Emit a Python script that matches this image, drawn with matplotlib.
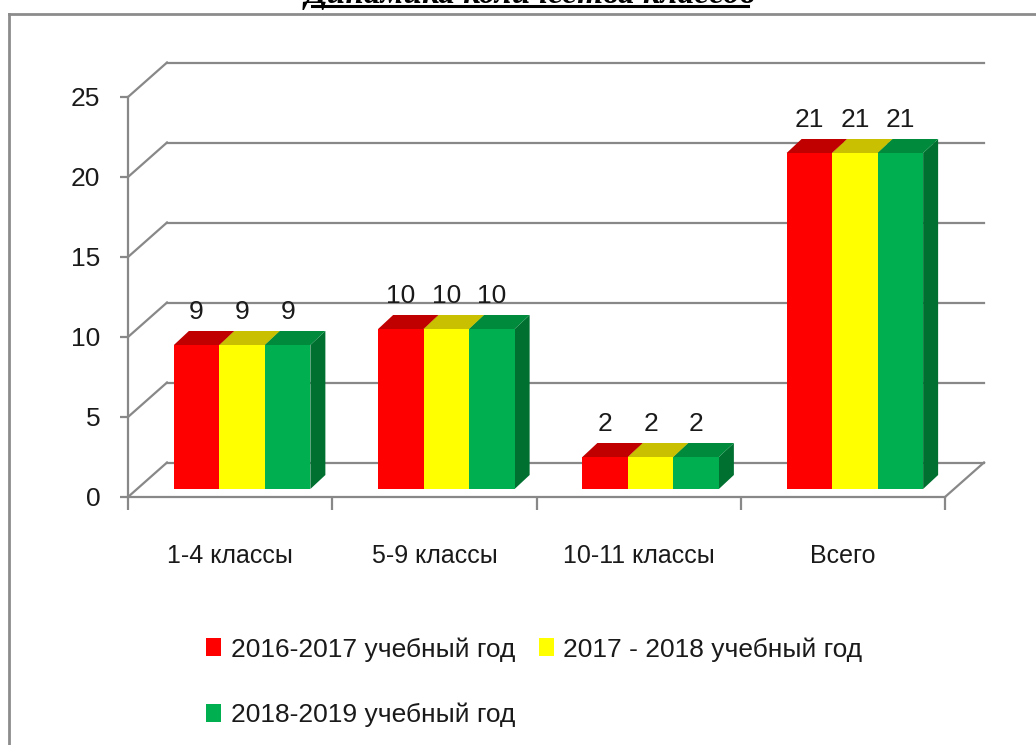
import numpy as np
import matplotlib
matplotlib.use('Agg')
from matplotlib import pyplot as plt
from matplotlib.patches import Patch
from matplotlib.lines import Line2D

plt.rcParams['font.family'] = ['Liberation Sans Narrow', 'Liberation Sans', 'DejaVu Sans']

# data
categories = ['1-4 классы', '5-9 классы', '10-11 классы', 'Всего']
series_names = ['2016-2017 учебный год', '2017 - 2018 учебный год', '2018-2019 учебный год']
vals_2016 = [9, 10, 2, 21]
vals_2017 = [9, 10, 2, 21]
vals_2018 = [9, 10, 2, 21]
yticks = [0, 5, 10, 15, 20, 25]

values = [vals_2016, vals_2017, vals_2018]
front_colors = ['#ff0000', '#ffff00', '#00b050']
top_colors = ['#c00000', '#c8c000', '#008a3c']
side_colors = ['#a00000', '#a8a000', '#007030']
grid_c = '#888888'

W, H = 1036, 745
fig = plt.figure(figsize=(W / 100, H / 100), dpi=100)
# front plane of the 3d box, in pixels: x 128..945, y 497..97
ax = fig.add_axes([128 / W, (H - 497) / H, 817 / W, 400 / H])
ax.set_xlim(-0.5, 3.5)
ax.set_ylim(0, 25)
ax.patch.set_visible(False)

pxx = 817 / 4.0   # pixels per x unit
pxy = 400 / 25.0  # pixels per y unit
wall_dx, wall_dy = 39 / pxx, 34.5 / pxy   # depth of the box
bar_ox, bar_oy = 12 / pxx, 8 / pxy        # bar front offset into the box
bar_dx, bar_dy = 15 / pxx, 14 / pxy       # bar depth
bw = 45.5 / pxx

# back wall gridlines and left wall diagonals
for v in yticks:
    ax.plot([-0.5 + wall_dx, 3.5 + wall_dx], [v + wall_dy, v + wall_dy],
            color=grid_c, lw=1.6, clip_on=False, zorder=1)
    ax.plot([-0.5, -0.5 + wall_dx], [v, v + wall_dy],
            color=grid_c, lw=1.6, clip_on=False, zorder=1)
# floor right edge
ax.plot([3.5, 3.5 + wall_dx], [0, wall_dy], color=grid_c, lw=1.6, clip_on=False, zorder=1)

x = np.arange(len(categories))
for i, vals in enumerate(values):
    xl = x - 1.5 * bw + i * bw + bar_ox
    xr = xl + bw
    for j in range(len(categories)):
        b = bar_oy
        t = bar_oy + vals[j]
        ax.fill([xr[j], xr[j] + bar_dx, xr[j] + bar_dx, xr[j]],
                [b, b + bar_dy, t + bar_dy, t],
                color=side_colors[i], lw=0, clip_on=False, zorder=3 + i)
        ax.fill([xl[j], xl[j] + bar_dx, xr[j] + bar_dx, xr[j]],
                [t, t + bar_dy, t + bar_dy, t],
                color=top_colors[i], lw=0, clip_on=False, zorder=3 + i)
    ax.bar(xl, vals, width=bw, bottom=bar_oy, align='edge', color=front_colors[i],
           lw=0, clip_on=False, zorder=3 + i)
    for j in range(len(categories)):
        ax.annotate(str(vals[j]), (xl[j] + bw / 2, bar_oy + vals[j]),
                    xytext=(0, 19), textcoords='offset points',
                    ha='center', va='baseline', fontsize=19, color='#1a1a1a',
                    annotation_clip=False, zorder=10)

# axes lines and ticks
for s in ['top', 'right']:
    ax.spines[s].set_visible(False)
for s in ['left', 'bottom']:
    ax.spines[s].set_color(grid_c)
    ax.spines[s].set_linewidth(1.6)
    ax.spines[s].set_zorder(2)
ax.set_yticks(yticks)
ax.set_yticklabels([str(v) for v in yticks])
ax.tick_params(axis='y', direction='out', length=6, width=1.6, color=grid_c,
               pad=14, labelsize=19, labelcolor='#1a1a1a')
ax.set_xticks(np.arange(-0.5, 4, 1.0))
ax.set_xticklabels([])
ax.tick_params(axis='x', which='major', direction='out', length=9, width=1.6, color=grid_c)
ax.set_xticks(x, minor=True)
ax.set_xticklabels(categories, minor=True)
ax.tick_params(axis='x', which='minor', length=0, pad=34, labelsize=18, labelcolor='#1a1a1a')

# legend, row-major order
handles = [Patch(facecolor=c, edgecolor='none') for c in front_colors]
order = [0, 2, 1]
fig.legend([handles[k] for k in order], [series_names[k] for k in order],
           ncol=2, loc='upper left', bbox_to_anchor=(206 / W, 1 - 637 / H),
           frameon=False, fontsize=19, borderpad=0, borderaxespad=0,
           handlelength=0.58, handleheight=0.68, handletextpad=0.35,
           columnspacing=0.9, labelspacing=1.55, labelcolor='#1a1a1a')

# outer frame
fig.add_artist(Line2D([9 / W, 9 / W], [0, 1 - 14 / H], color='#8c8c8c', lw=2))
fig.add_artist(Line2D([9 / W, 1], [1 - 14 / H, 1 - 14 / H], color='#8c8c8c', lw=2))

# title, cut off at the top edge like in the source picture
fig.text(530 / W, 1 - 3 / H, 'Динамика количества классов', ha='center', va='baseline',
         fontsize=24, fontweight='bold', style='italic', family=['Liberation Serif', 'DejaVu Serif'])
fig.add_artist(Line2D([312 / W, 748 / W], [1 - 6 / H, 1 - 6 / H], color='black', lw=2.2))

fig.savefig('out.png', dpi=100)
